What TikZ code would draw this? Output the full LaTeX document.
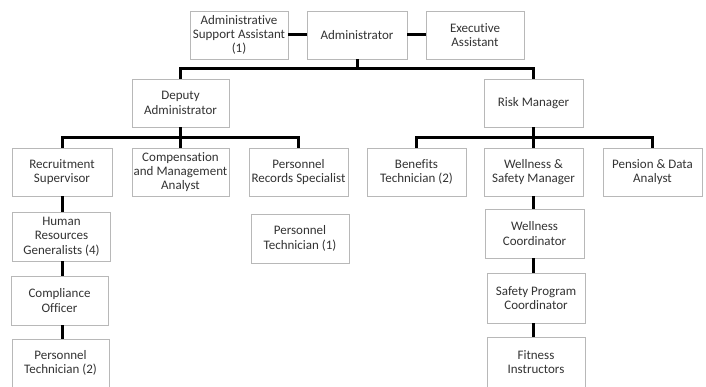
\documentclass[tikz,border=0pt]{standalone}
\usepackage{fontspec}
\setmainfont[Ligatures=CommonOff]{Carlito}
\usetikzlibrary{calc,positioning}

\begin{document}
\begin{tikzpicture}[x=1pt,y=-1pt,
  b/.style={draw=black!28,fill=white,line width=0.8pt,align=center,inner sep=0.5pt,
    minimum width=98pt,minimum height=48pt,text=black!80,
    font=\fontsize{13}{14.3}\selectfont},
  l/.style={line width=3pt,black}]
  \useasboundingbox (0,0) rectangle (706,387);
  % top row
  \node[b] (asa) at (239,35) {Administrative\\Support Assistant\\(1)};
  \node[b,minimum width=100pt] (adm) at (357,35) {Administrator};
  \node[b] (exe) at (475,35) {Executive\\Assistant};
  \draw[l] (asa)--(adm)--(exe);
  % second row
  \node[b,minimum width=97pt] (dep) at (180.5,103) {Deputy\\Administrator};
  \node[b,minimum width=99pt] (risk) at (533.5,103) {Risk Manager};
  \draw[l] (adm.south) -- ++(0,9) -| (dep.north);
  \draw[l] (adm.south) -- ++(0,9) -| (risk.north);
  % third row
  \node[b,minimum width=100pt] (rec) at (62,172) {Recruitment\\Supervisor};
  \node[b,minimum width=97pt] (comp) at (180.5,172) {Compensation\\and Management\\Analyst};
  \node[b,minimum width=99pt] (prs) at (298.5,172) {Personnel\\Records Specialist};
  \node[b,minimum width=99pt] (ben) at (416.5,172) {Benefits\\Technician (2)};
  \node[b,minimum width=99pt] (wsm) at (533.5,172) {Wellness \&\\Safety Manager};
  \node[b,minimum width=99pt] (pda) at (652.5,172) {Pension \& Data\\Analyst};
  \foreach \n in {rec,comp,prs}
    \draw[l] (dep.south) -- ++(0,10) -| (\n.north);
  \foreach \n in {ben,wsm,pda}
    \draw[l] (risk.south) -- ++(0,10) -| (\n.north);
  % left column
  \node[b,minimum height=49pt] (hrg) at (61.5,236.5) {Human\\Resources\\Generalists (4)};
  \node[b,minimum width=97pt,minimum height=49pt] (co) at (59.5,300.5) {Compliance\\Officer};
  \node[b,minimum width=97pt] (pt2) at (60.5,363) {Personnel\\Technician (2)};
  \draw[l] (rec.south) -- (rec.south |- hrg.north);
  \draw[l] (rec.south |- hrg.south) -- (rec.south |- co.north);
  \draw[l] (rec.south |- co.south) -- (rec.south |- pt2.north);
  % personnel technician
  \node[b,minimum height=49pt] (pt1) at (300,238.5) {Personnel\\Technician (1)};
  % right column
  \node[b,minimum width=99pt,minimum height=49pt] (wc) at (534.5,233.5) {Wellness\\Coordinator};
  \node[b,minimum height=50pt] (spc) at (536,298) {Safety Program\\Coordinator};
  \node[b,minimum height=50pt] (fi) at (536,362) {Fitness\\Instructors};
  \draw[l] (wsm.south) -- (wsm.south |- wc.north);
  \draw[l] (wsm.south |- wc.south) -- (wsm.south |- spc.north);
  \draw[l] (wsm.south |- spc.south) -- (wsm.south |- fi.north);
\end{tikzpicture}
\end{document}
